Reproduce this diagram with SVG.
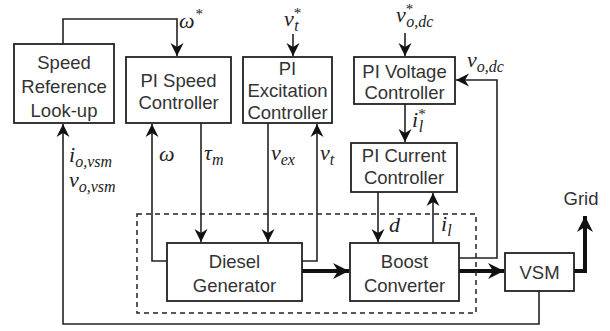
<svg xmlns="http://www.w3.org/2000/svg" width="610" height="331" viewBox="0 0 610 331">
<defs>
<style>
.box{fill:#fff;stroke:#222;stroke-width:1.8}
.lbl{font-family:"Liberation Sans",Arial,sans-serif;font-size:18.5px;fill:#333;text-anchor:middle}
.ln{fill:none;stroke:#222;stroke-width:1.6}
.thk{fill:none;stroke:#111;stroke-width:4}
.m{font-family:"Liberation Serif","Times New Roman",serif;font-style:italic;font-size:22px;fill:#222}
.sub{font-size:16px}
.sup{font-size:15px;font-style:normal}
</style>
<marker id="a" markerUnits="userSpaceOnUse" markerWidth="16" markerHeight="16" viewBox="-14 -8 16 16" refX="0" refY="0" orient="auto">
<path d="M0,0 L-13,-6.5 L-9,0 L-13,6.5 Z" fill="#111"/>
</marker>
<marker id="b" markerUnits="userSpaceOnUse" markerWidth="20" markerHeight="20" viewBox="-18 -10 20 20" refX="0" refY="0" orient="auto">
<path d="M0,0 L-16,-8 L-11,0 L-16,8 Z" fill="#111"/>
</marker>
</defs>
<rect width="610" height="331" fill="#fff"/>
<g id="connectors">
<path class="ln" d="M63,44 V19 H177 V56" marker-end="url(#a)"/>
<path class="ln" d="M167,261 H152 V124" marker-end="url(#a)"/>
<path class="ln" d="M201,123 V242" marker-end="url(#a)"/>
<path class="ln" d="M268,123 V242" marker-end="url(#a)"/>
<path class="ln" d="M302,261 H317 V124" marker-end="url(#a)"/>
<path class="ln" d="M293,34 V56" marker-end="url(#a)"/>
<path class="ln" d="M405,33 V56" marker-end="url(#a)"/>
<path class="ln" d="M405,104 V142" marker-end="url(#a)"/>
<path class="ln" d="M378,192 V242" marker-end="url(#a)"/>
<path class="ln" d="M433,243 V193" marker-end="url(#a)"/>
<path class="ln" d="M459,258 H497 V80 H456" marker-end="url(#a)"/>
<path class="ln" d="M539,291 V324 H63 V124" marker-end="url(#a)"/>
<path class="thk" d="M302,271 H349" marker-end="url(#b)"/>
<path class="thk" d="M459,271 H504" marker-end="url(#b)"/>
<path class="thk" d="M574,271 H585 V216" marker-end="url(#b)"/>
<rect x="137" y="214" width="339" height="99" fill="none" stroke="#222" stroke-width="1.5" stroke-dasharray="5,4"/>
</g>
<g id="speedref">
<rect class="box" x="14" y="44" width="100" height="79"/>
<text class="lbl" x="64" y="68.5">Speed</text>
<text class="lbl" x="64" y="92.5">Reference</text>
<text class="lbl" x="64" y="116.5">Look-up</text>
</g>
<g id="pispeed">
<rect class="box" x="126" y="57" width="105" height="66"/>
<text class="lbl" x="178.5" y="87">PI Speed</text>
<text class="lbl" x="178.5" y="108.5">Controller</text>
</g>
<g id="piexc">
<rect class="box" x="243" y="57" width="89" height="66"/>
<text class="lbl" x="287.5" y="75">PI</text>
<text class="lbl" x="287.5" y="97">Excitation</text>
<text class="lbl" x="287.5" y="118.5">Controller</text>
</g>
<g id="pivolt">
<rect class="box" x="354" y="57" width="101" height="47"/>
<text class="lbl" x="404.5" y="78">PI Voltage</text>
<text class="lbl" x="404.5" y="99">Controller</text>
</g>
<g id="picurr">
<rect class="box" x="351" y="143" width="106" height="49"/>
<text class="lbl" x="404" y="162">PI Current</text>
<text class="lbl" x="404" y="184">Controller</text>
</g>
<g id="diesel">
<rect class="box" x="167" y="243" width="135" height="58"/>
<text class="lbl" x="234.5" y="268">Diesel</text>
<text class="lbl" x="234.5" y="292">Generator</text>
</g>
<g id="boost">
<rect class="box" x="350" y="243" width="109" height="58"/>
<text class="lbl" x="404.5" y="268">Boost</text>
<text class="lbl" x="404.5" y="292">Converter</text>
</g>
<g id="vsm">
<rect class="box" x="505" y="253" width="69" height="38"/>
<text class="lbl" x="539.5" y="278.5">VSM</text>
</g>
<g id="grid">
<text class="lbl" x="581" y="205">Grid</text>
</g>
<g id="labels">
<text class="m" x="179" y="28">ω<tspan class="sup" dx="1" dy="-9">*</tspan></text>
<text class="m" x="284" y="26">v<tspan class="sup" dy="-8">*</tspan><tspan class="sub" dx="-7" dy="13">t</tspan></text>
<text class="m" x="396" y="22">v<tspan class="sup" dy="-8">*</tspan><tspan class="sub" dx="-7" dy="13">o,dc</tspan></text>
<text class="m" x="467" y="67">v<tspan class="sub" dy="5">o,dc</tspan></text>
<text class="m" x="412" y="127">i<tspan class="sup" dy="-8">*</tspan><tspan class="sub" dx="-7" dy="13">l</tspan></text>
<text class="m" x="69" y="162">i<tspan class="sub" dy="5">o,vsm</tspan></text>
<text class="m" x="69" y="187">v<tspan class="sub" dy="5">o,vsm</tspan></text>
<text class="m" x="159" y="161">ω</text>
<text class="m" x="204" y="160">τ<tspan class="sub" dy="5">m</tspan></text>
<text class="m" x="271" y="160">v<tspan class="sub" dy="5">ex</tspan></text>
<text class="m" x="320" y="160">v<tspan class="sub" dy="5">t</tspan></text>
<text class="m" x="389" y="232">d</text>
<text class="m" x="441" y="231">i<tspan class="sub" dy="5">l</tspan></text>
</g>
</svg>
